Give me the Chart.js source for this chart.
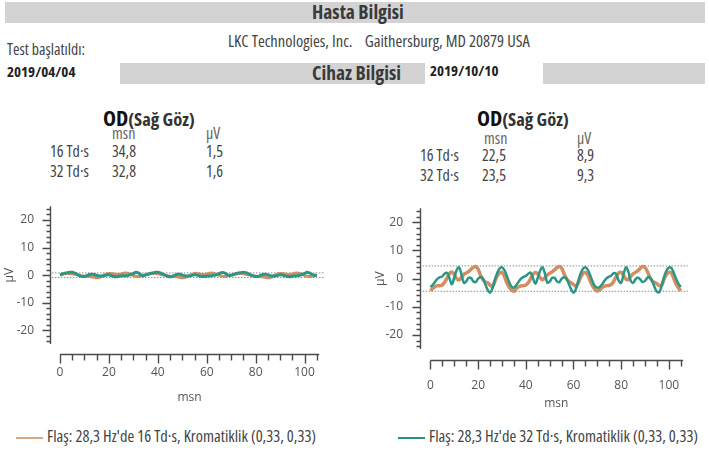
<!DOCTYPE html>
<html>
<head>
<meta charset="utf-8">
<script src="https://cdn.jsdelivr.net/npm/chart.js@4.4.0/dist/chart.umd.min.js"></script>
<style>
  body { margin: 0; width: 709px; height: 453px; background: #fff; position: relative; overflow: hidden;
         font-family: 'Open Sans', 'Noto Sans', sans-serif; color: #333; }
  .abs { position: absolute; white-space: nowrap; line-height: 1; font-stretch: 75%; }
  .bar { position: absolute; background: #d3d3d3; }
  .hdr { font-weight: bold; font-size: 19.5px; color: #3a3a3a; }
  .od { font-weight: bold; font-size: 22px; color: #111; }
  .od span { font-size: 18.5px; color: #333; }
  .tbl { font-size: 16px; color: #444; }
  .sub { color: #666; }
  .leg { font-size: 16.4px; color: #444; }
  .leg i { display: inline-block; width: 27px; height: 2px; vertical-align: middle; margin-right: 4px; }
  .plot { position: absolute; }
</style>
</head>
<body>
  <div class="bar" style="left:5px;top:2px;width:700px;height:21px"></div>
  <div class="abs hdr" style="left:312px;top:2px">Hasta Bilgisi</div>
  <div class="abs" style="left:228px;top:33px;font-size:16.5px;color:#444">LKC Technologies, Inc.&nbsp;&nbsp;&nbsp; Gaithersburg, MD 20879 USA</div>
  <div class="abs" style="left:7px;top:42px;font-size:15.8px;color:#444">Test başlatıldı:</div>
  <div class="abs" style="left:7px;top:64px;font-size:15px;font-weight:bold;color:#222">2019/04/04</div>
  <div class="bar" style="left:120px;top:63px;width:305px;height:21px"></div>
  <div class="abs hdr" style="left:312px;top:63px">Cihaz Bilgisi</div>
  <div class="abs" style="left:430px;top:63px;font-size:15px;font-weight:bold;color:#222">2019/10/10</div>
  <div class="bar" style="left:543px;top:63px;width:162px;height:21px"></div>

  <div class="abs od" style="left:103px;top:106px">OD<span>(Sağ Göz)</span></div>
  <div class="abs tbl sub" style="left:112px;top:125px">msn</div>
  <div class="abs tbl sub" style="left:206px;top:125px">µV</div>
  <div class="abs tbl" style="left:50px;top:143px">16 Td·s</div>
  <div class="abs tbl" style="left:112px;top:143px">34,8</div>
  <div class="abs tbl" style="left:206px;top:143px">1,5</div>
  <div class="abs tbl" style="left:50px;top:163px">32 Td·s</div>
  <div class="abs tbl" style="left:112px;top:163px">32,8</div>
  <div class="abs tbl" style="left:206px;top:163px">1,6</div>

  <div class="abs od" style="left:477px;top:106px">OD<span>(Sağ Göz)</span></div>
  <div class="abs tbl sub" style="left:484px;top:130px">msn</div>
  <div class="abs tbl sub" style="left:577px;top:130px">µV</div>
  <div class="abs tbl" style="left:420px;top:147px">16 Td·s</div>
  <div class="abs tbl" style="left:482px;top:147px">22,5</div>
  <div class="abs tbl" style="left:577px;top:147px">8,9</div>
  <div class="abs tbl" style="left:420px;top:167px">32 Td·s</div>
  <div class="abs tbl" style="left:482px;top:167px">23,5</div>
  <div class="abs tbl" style="left:577px;top:167px">9,3</div>

  <div class="plot" style="left:0;top:197px"><canvas id="leftChart" width="360" height="215"></canvas></div>
  <div class="plot" style="left:360px;top:199px"><canvas id="rightChart" width="349" height="220"></canvas></div>

  <div class="abs leg" style="left:16px;top:428px"><i style="background:#d6a784"></i>Flaş: 28,3 Hz'de 16 Td·s, Kromatiklik (0,33, 0,33)</div>
  <div class="abs leg" style="left:398px;top:428px"><i style="background:#2a8f86"></i>Flaş: 28,3 Hz'de 32 Td·s, Kromatiklik (0,33, 0,33)</div>

<script>
// time axis, one sample per msn
const msn = [
  0,1,2,3,4,5,6,7,8,9,10,11,12,13,14,15,16,17,18,19,20,21,22,23,24,25,26,27,28,29,
  30,31,32,33,34,35,36,37,38,39,40,41,42,43,44,45,46,47,48,49,50,51,52,53,54,55,56,57,58,59,
  60,61,62,63,64,65,66,67,68,69,70,71,72,73,74,75,76,77,78,79,80,81,82,83,84,85,86,87,88,89,
  90,91,92,93,94,95,96,97,98,99,100,101,102,103,104,105
];

// 2019/04/04 - 16 Td·s (orange) and 32 Td·s (teal), µV
const leftOrange16 = [
  0.2,0.4,0.5,0.6,0.6,0.5,0.3,0.1,-0.1,-0.3,-0.4,-0.5,-0.5,-0.6,-0.8,-1.0,-0.9,-0.5,0.0,0.4,
  0.6,0.6,0.4,0.2,0.2,0.4,0.7,0.8,0.6,0.3,-0.1,-0.4,-0.5,-0.4,-0.1,0.2,
  0.4,0.5,0.6,0.6,0.5,0.3,0.1,-0.1,-0.3,-0.4,-0.5,-0.5,-0.6,-0.8,-1.0,-0.9,-0.6,-0.1,0.3,0.6,
  0.6,0.4,0.2,0.2,0.4,0.7,0.8,0.6,0.3,0.0,-0.3,-0.5,-0.4,-0.2,0.1,
  0.3,0.5,0.6,0.6,0.5,0.3,0.1,-0.1,-0.3,-0.4,-0.5,-0.5,-0.6,-0.8,-1.0,-0.9,-0.5,0.0,0.4,0.6,
  0.6,0.4,0.2,0.2,0.4,0.7,0.8,0.6,0.3,-0.1,-0.4,-0.5,-0.4,-0.1,0.2
];
const leftTeal32 = [
  0.0,0.4,0.7,0.9,1.0,1.0,0.7,0.3,-0.2,-0.5,-0.5,-0.2,0.2,0.3,0.2,-0.1,-0.3,-0.3,-0.2,0.0,
  0.1,-0.2,-0.5,-0.6,-0.4,-0.3,-0.2,-0.2,-0.1,0.2,0.6,1.0,0.8,0.2,-0.2,0.0,
  0.3,0.6,0.8,1.0,1.0,0.8,0.4,0.0,-0.4,-0.6,-0.4,0.0,0.3,0.3,0.0,-0.2,-0.3,-0.3,-0.1,0.1,
  0.0,-0.3,-0.5,-0.5,-0.4,-0.3,-0.2,-0.1,0.1,0.5,0.9,0.9,0.4,-0.1,-0.1,
  0.2,0.5,0.8,0.9,1.0,0.9,0.5,0.1,-0.3,-0.5,-0.5,-0.1,0.2,0.3,0.1,-0.2,-0.3,-0.3,-0.1,0.1,
  0.0,-0.3,-0.5,-0.6,-0.4,-0.3,-0.2,-0.1,0.2,0.6,1.0,0.8,0.3,-0.1,-0.2
];

// 2019/10/10 - 16 Td·s (orange) and 32 Td·s (teal), µV
const rightOrange16 = [
  -4.3,-3.5,-2.8,-2.5,-2.5,-2.2,-1.2,0.3,1.8,2.3,1.5,0.0,-0.5,0.5,1.5,2.0,2.5,3.3,4.0,4.3,
  3.3,1.2,-0.3,-1.2,-1.5,-2.3,-2.8,-1.0,1.0,2.0,2.2,0.8,-1.5,-3.0,-4.0,-4.5,
  -3.6,-2.9,-2.6,-2.5,-2.3,-1.5,0.0,1.5,2.2,1.7,0.3,-0.4,0.3,1.3,1.9,2.4,3.1,3.8,4.3,3.8,
  1.8,0.0,-1.0,-1.5,-2.1,-2.7,-1.6,0.5,1.8,2.2,1.2,-0.8,-2.6,-3.8,-4.4,
  -4.0,-3.2,-2.7,-2.5,-2.4,-2.0,-0.8,0.8,2.0,2.2,1.2,-0.2,-0.3,0.8,1.7,2.2,2.8,3.6,4.3,4.0,
  2.5,0.5,-0.8,-1.4,-1.8,-2.5,-2.3,-0.2,1.5,2.2,2.0,0.2,-1.8,-3.3,-4.3
];
const rightTeal32 = [
  -3.0,-2.2,-1.0,0.0,0.5,0.8,1.8,2.0,0.0,-2.0,0.5,3.0,4.0,1.5,-1.5,-1.0,0.3,0.2,-1.0,-1.2,
  0.0,0.6,0.0,-2.0,-4.0,-5.0,-3.5,-0.5,2.0,3.6,4.0,3.0,1.0,-1.2,-2.8,-3.2,
  -2.3,-1.1,0.0,0.6,0.9,1.7,2.1,0.2,-1.8,0.3,2.8,4.0,1.8,-1.4,-1.1,0.2,0.3,-0.9,-1.3,-0.1,
  0.5,0.1,-1.8,-3.8,-5.0,-3.7,-0.8,1.8,3.5,4.0,3.1,1.2,-1.0,-2.7,-3.2,
  -3.0,-2.0,-0.8,0.2,0.7,1.2,2.0,1.5,-0.8,-1.5,1.5,4.0,2.5,-0.8,-1.5,-0.3,0.4,-0.3,-1.2,-0.8,
  0.3,0.5,-0.8,-3.0,-4.6,-4.8,-2.5,0.5,2.8,3.9,3.8,2.2,0.0,-1.8,-3.0
];

// dotted amplitude guides (upper, lower)
const leftGuides = [0.8, -0.9];
const rightGuides = [4.5, -4.5];
const guideSpan = [-3.3, 108];

const yTickLabels = [-20, -10, 0, 10, 20];
const xTickLabels = [0, 20, 40, 60, 80, 100];

const TEAL = '#2a9685';
const ORANGE = '#d38d63';
const AXIS = '#4a4a4a';

// draws the detached, Igor-style axes with major/minor ticks
const ergAxes = {
  id: 'ergAxes',
  afterDraw(chart, args, opts) {
    const { ctx, chartArea, scales: { x, y } } = chart;
    ctx.save();
    ctx.strokeStyle = AXIS;
    ctx.lineWidth = 1.4;
    ctx.beginPath();
    const ax = Math.round(chartArea.left) + 0.5;
    ctx.moveTo(ax, y.getPixelForValue(25));
    ctx.lineTo(ax, y.getPixelForValue(-25));
    for (let v = -24; v <= 24; v += 2) {
      const py = Math.round(y.getPixelForValue(v)) + 0.5;
      const len = v % 10 === 0 ? 8 : 4;
      ctx.moveTo(ax, py);
      ctx.lineTo(ax - len, py);
    }
    const by = Math.round(y.getPixelForValue(-25) + opts.gap) + 0.5;
    ctx.moveTo(x.getPixelForValue(0), by);
    ctx.lineTo(x.getPixelForValue(106), by);
    for (let v = 0; v <= 105; v += 5) {
      const px = Math.round(x.getPixelForValue(v)) + 0.5;
      const len = v % 20 === 0 ? 9 : 6;
      ctx.moveTo(px, by);
      ctx.lineTo(px, by + len);
    }
    ctx.stroke();
    ctx.restore();
  }
};

function pts(values) {
  return msn.map((m, i) => ({ x: m, y: values[i] }));
}

function guide(v) {
  return {
    data: guideSpan.map(g => ({ x: g, y: v })),
    borderColor: '#8a8a8a', borderWidth: 1, borderDash: [1.5, 1.5],
    pointRadius: 0, tension: 0
  };
}

function makeChart(id, teal, orange, guides, g) {
  return new Chart(document.getElementById(id), {
    type: 'line',
    data: {
      datasets: [
        { data: pts(teal), borderColor: TEAL, borderWidth: g.tealW, pointRadius: 0, tension: 0.4 },
        { data: pts(orange), borderColor: ORANGE, borderWidth: g.orangeW, pointRadius: 0, tension: 0.4 },
        guide(guides[0]),
        guide(guides[1])
      ]
    },
    options: {
      responsive: false,
      animation: false,
      layout: { padding: { top: g.top, right: g.right, bottom: 0, left: 0 } },
      plugins: { legend: { display: false }, tooltip: { enabled: false }, ergAxes: { gap: g.gap } },
      scales: {
        x: {
          type: 'linear', min: g.xmin, max: 110,
          afterBuildTicks: s => { s.ticks = xTickLabels.map(v => ({ value: v })); },
          afterFit: s => { s.height = g.xh; },
          grid: { display: false, drawTicks: false },
          border: { display: false },
          ticks: { padding: g.xpad, color: '#555', font: { family: 'Open Sans', size: 12 }, maxRotation: 0 },
          title: { display: true, text: 'msn', color: '#555', font: { family: 'Open Sans', size: 12 }, padding: { top: 0, bottom: g.tb } }
        },
        y: {
          min: -25, max: 25,
          afterBuildTicks: s => { s.ticks = yTickLabels.map(v => ({ value: v })); },
          afterFit: s => { s.width = g.yw; },
          // invisible tick marks only reserve room between the labels and the drawn axis
          grid: { display: false, drawTicks: true, tickLength: g.ypad },
          border: { display: false },
          ticks: { padding: 2, color: '#555', font: { family: 'Open Sans', size: 12 } },
          title: { display: true, text: 'µV', color: '#555', font: { family: 'Open Sans', size: 12 }, padding: { top: g.tt, bottom: 0 } }
        }
      }
    },
    plugins: [ergAxes]
  });
}

makeChart('leftChart', leftTeal32, leftOrange16, leftGuides,
  { top: 3, right: 31, xmin: -4.1, xh: 68, xpad: 21, tb: 7, yw: 50, ypad: 14, tt: 2, gap: 10, tealW: 3, orangeW: 3 });
makeChart('rightChart', rightTeal32, rightOrange16, rightGuides,
  { top: 6, right: 10, xmin: -4.4, xh: 70, xpad: 29, tb: 8, yw: 60, ypad: 15, tt: 13, gap: 11, tealW: 2.5, orangeW: 3.5 });
</script>
</body>
</html>
